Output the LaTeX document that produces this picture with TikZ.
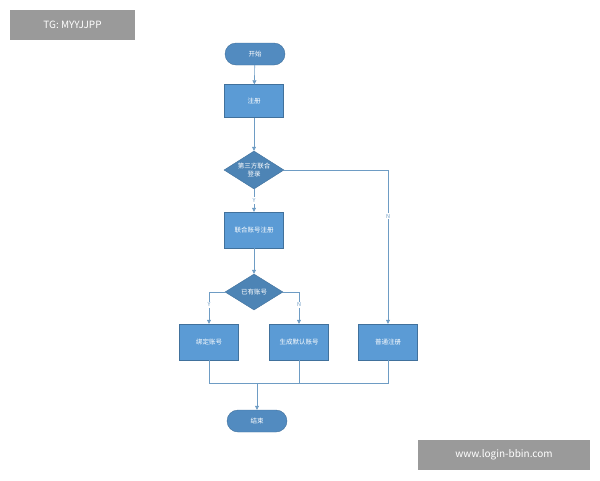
\documentclass[tikz,border=0pt]{standalone}
\usepackage{fontspec}
\setmainfont{Noto Sans CJK SC}
\usetikzlibrary{arrows.meta,shapes.geometric,positioning}
\definecolor{boxblue}{HTML}{5B9BD5}
\definecolor{edgeblue}{HTML}{41719C}
\definecolor{lineblue}{HTML}{6E9CC4}
\definecolor{markgray}{HTML}{9A9A9A}

\begin{document}
\begin{tikzpicture}[x=1pt,y=-1pt,
  stepbox/.style={draw=edgeblue,fill=boxblue,text=white,minimum width=59pt,minimum height=35pt,font=\fontsize{6.5}{8}\selectfont,inner sep=1pt},
  termbox/.style={draw=edgeblue,fill=boxblue!90!black,text=white,rounded corners=11pt,minimum width=60pt,minimum height=22pt,font=\fontsize{6.5}{8}\selectfont},
  choice/.style={diamond,aspect=1.6,draw=edgeblue,fill=boxblue!85!black,text=white,minimum width=60pt,minimum height=38pt,inner sep=0pt,align=center,font=\fontsize{6.5}{8}\selectfont},
  flow/.style={draw=lineblue,line width=0.6pt,-{Triangle[length=4pt,width=4pt]}},
  link/.style={draw=lineblue,line width=0.6pt},
  yn/.style={text=lineblue,font=\fontsize{5.5}{6}\selectfont},
  wmark/.style={fill=markgray,text=white,font=\fontsize{10}{12}\selectfont,inner sep=0pt}]

\useasboundingbox (0,0) rectangle (600,480);

\node[termbox] (start) at (255,54) {开始};
\node[stepbox,minimum height=33pt] (reg) at (254,101) {注册};
\node[choice] (third) at (254,170) {第三方联合\\登录};
\node[stepbox,minimum height=36pt] (union) at (254,230) {联合账号注册};
\node[choice,minimum width=58pt,minimum height=36pt] (has) at (254,292) {已有账号};
\node[stepbox,minimum height=36pt] (bind) at (209,342) {绑定账号};
\node[stepbox,minimum height=36pt] (gen) at (299,342) {生成默认账号};
\node[stepbox,minimum height=36pt] (normal) at (388,342) {普通注册};
\node[termbox] (end) at (257,421) {结束};

\coordinate (merge) at (257,383);

\draw[flow] (start) -- (reg);
\draw[flow] (reg) -- (third);
\draw[flow] (third) -- node[yn,fill=white,inner sep=1pt] {Y} (union);
\draw[flow] (third.east) -| node[yn,fill=white,inner sep=1pt,pos=0.65] {N} (normal);
\draw[flow] (union) -- (has);
\draw[flow] (has.west) -| node[yn,fill=white,inner sep=1pt,pos=0.7] {Y} (bind);
\draw[flow] (has.east) -| node[yn,fill=white,inner sep=1pt,pos=0.7] {N} (gen);
\draw[link] (bind.south) |- (normal.south |- merge) -- (normal.south);
\draw[link] (gen.south) -- (gen.south |- merge);
\draw[flow] (merge) -- (end);

% watermarks
\node[wmark,minimum width=125pt,minimum height=30pt] (tg) at (72.5,25) {TG: MYYJJPP};
\node[wmark,minimum width=172pt,minimum height=30pt] (site) at (504,455) {www.login-bbin.com};

\end{tikzpicture}
\end{document}
